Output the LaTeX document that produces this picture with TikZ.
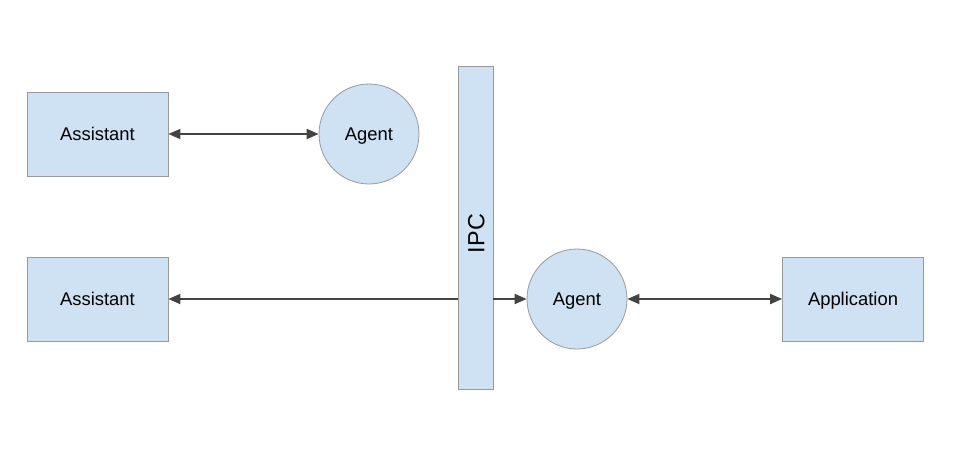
\documentclass[tikz,border=0pt]{standalone}
\usepackage{fontspec}
\setmainfont{Liberation Sans}
\usetikzlibrary{arrows.meta}
\definecolor{boxfill}{HTML}{CFE2F3}
\definecolor{boxline}{HTML}{999999}
\definecolor{conn}{HTML}{434343}
\begin{document}
\begin{tikzpicture}[x=1pt,y=-1pt,
  box/.style={draw=boxline,fill=boxfill,line width=0.8pt,minimum width=141pt,minimum height=84pt,inner sep=0pt,text height=13.2pt,text depth=0pt,font=\fontsize{18.4}{22}\selectfont},
  agentnode/.style={circle,draw=boxline,fill=boxfill,line width=0.8pt,minimum size=100pt,inner sep=0pt,text height=13.2pt,text depth=0pt,font=\fontsize{18.4}{22}\selectfont},
  conn/.style={draw=conn,line width=1.8pt},
  tip/.style={-{Triangle[length=12pt,width=10pt]}}]
\useasboundingbox (0,0) rectangle (959,460);
\node[box] (as1) at (97.5,134) {Assistant};
\node[agentnode] (ag1) at (369,134) {Agent};
\node[box] (as2) at (97.5,299) {Assistant};
\node[draw=boxline,fill=boxfill,line width=0.8pt,minimum width=35pt,minimum height=323pt,inner sep=0pt] (ipc) at (475.5,227.5) {};
\node[rotate=90,inner sep=0pt,text height=16.8pt,text depth=0pt,font=\fontsize{23.4}{28}\selectfont] (ipclabel) at (476,233.5) {IPC};
\node[agentnode] (ag2) at (577,299) {Agent};
\node[box] (app) at (853,299) {Application};
\draw[conn,{Triangle[length=12pt,width=10pt]}-{Triangle[length=12pt,width=10pt]}] (as1.east) -- (ag1.west);
\coordinate (ipcl) at (ipc.west |- as2.east);
\coordinate (ipcr) at (ipc.east |- as2.east);
\draw[conn,tip] (ipcl) -- (as2.east);
\draw[conn,tip] (ipcr) -- (ag2.west);
\draw[conn,{Triangle[length=12pt,width=10pt]}-{Triangle[length=12pt,width=10pt]}] (ag2.east) -- (app.west);
\end{tikzpicture}
\end{document}
